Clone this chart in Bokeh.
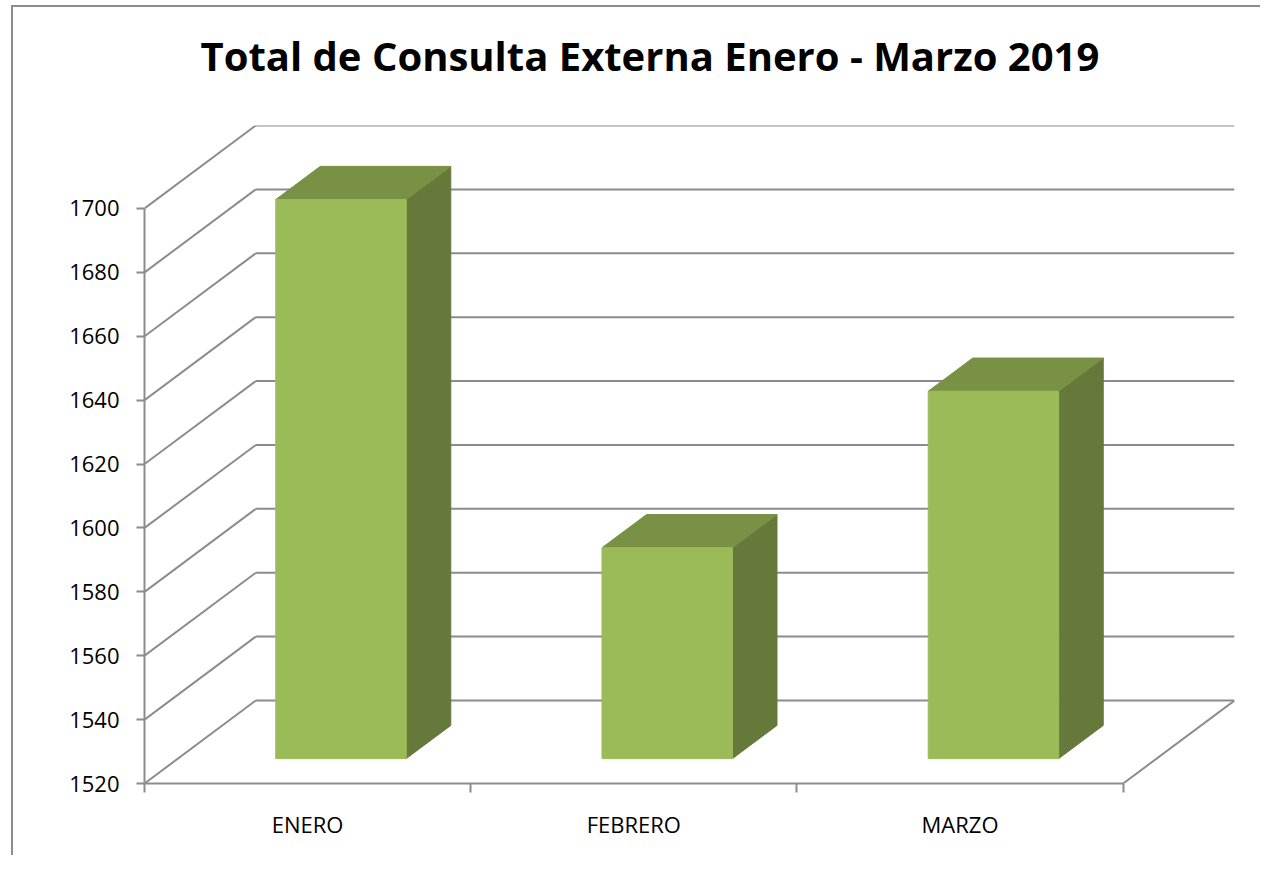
from bokeh.plotting import figure
from bokeh.models import Range1d, FixedTicker, ColumnDataSource, Title
from bokeh.embed import file_html
from bokeh.resources import INLINE

# ---- data -------------------------------------------------------------
CATEGORIES = ["ENERO", "FEBRERO", "MARZO"]
VALUES = [1695, 1586, 1635]
Y_TICKS = [1520, 1540, 1560, 1580, 1600, 1620, 1640, 1660, 1680, 1700]
TITLE = "Total de Consulta Externa Enero - Marzo 2019"

# ---- 3D geometry (data units) -----------------------------------------
N = len(CATEGORIES)
Y0 = Y_TICKS[0]
Y1 = Y_TICKS[-1]
DX = 0.3412          # depth offset along x (category units)
DY = 25.98           # depth offset along y (value units)
BAR_W = 0.40         # bar width (category units)
D0, D1 = 0.30, 0.70  # bar front / back depth fractions

GRID_COLOR = "#8c8c8c"
FRONT = "#9bbb59"
TOP = "#799145"
SIDE = "#66783a"

p = figure(width=1249, height=850, output_backend="svg", toolbar_location=None,
           x_range=Range1d(0, N + DX), y_range=Range1d(Y0, Y1 + DY),
           min_border_left=131, min_border_right=28,
           min_border_top=118, min_border_bottom=74)
p.styles = {"border-left": "2px solid #8c8c8c", "border-top": "2px solid #8c8c8c",
            "margin-left": "11px", "margin-top": "5px"}
p.outline_line_color = None
p.xgrid.visible = False
p.ygrid.visible = False
p.background_fill_color = "white"
p.border_fill_color = "white"

# ---- walls / gridlines ------------------------------------------------
xs, ys = [], []
for v in Y_TICKS:
    xs.append([0, DX]); ys.append([v, v + DY])            # left wall diagonal
    xs.append([DX, N + DX]); ys.append([v + DY, v + DY])  # back wall line
xs.append([N, N + DX]); ys.append([Y0, Y0 + DY])          # floor right edge
p.multi_line(xs, ys, line_color=GRID_COLOR, line_width=2)

# ---- bars -------------------------------------------------------------
px, py, pc = [], [], []
for i, v in enumerate(VALUES):
    c = i + 0.5
    xl0 = c - BAR_W / 2 + D0 * DX
    xr0 = c + BAR_W / 2 + D0 * DX
    xl1 = c - BAR_W / 2 + D1 * DX
    xr1 = c + BAR_W / 2 + D1 * DX
    b0, b1 = Y0 + D0 * DY, Y0 + D1 * DY
    t0, t1 = v + D0 * DY, v + D1 * DY
    # side face
    px.append([xr0, xr1, xr1, xr0]); py.append([b0, b1, t1, t0]); pc.append(SIDE)
    # top face
    px.append([xl0, xl1, xr1, xr0]); py.append([t0, t1, t1, t0]); pc.append(TOP)
    # front face
    px.append([xl0, xr0, xr0, xl0]); py.append([b0, b0, t0, t0]); pc.append(FRONT)
src = ColumnDataSource(dict(xs=px, ys=py, color=pc))
p.patches("xs", "ys", source=src, fill_color="color", line_color="color", line_width=1)

# ---- axes -------------------------------------------------------------
xa = p.xaxis[0]
xa.bounds = (0, N)
xa.ticker = FixedTicker(ticks=[i + 0.5 for i in range(N)], minor_ticks=list(range(N + 1)))
xa.major_label_overrides = {i + 0.5: c for i, c in enumerate(CATEGORIES)}
xa.axis_line_color = GRID_COLOR
xa.axis_line_width = 2
xa.major_tick_line_color = None
xa.major_tick_out = 0
xa.major_tick_in = 0
xa.minor_tick_line_color = GRID_COLOR
xa.minor_tick_line_width = 2
xa.minor_tick_out = 9
xa.minor_tick_in = 0
xa.major_label_standoff = 16
xa.major_label_text_font = "Open Sans"
xa.major_label_text_font_size = "22px"
xa.major_label_text_color = "black"

ya = p.yaxis[0]
ya.bounds = (Y0, Y1)
ya.ticker = FixedTicker(ticks=Y_TICKS, minor_ticks=[])
ya.axis_line_color = GRID_COLOR
ya.axis_line_width = 2
ya.major_tick_line_color = GRID_COLOR
ya.major_tick_line_width = 2
ya.major_tick_out = 8
ya.major_tick_in = 0
ya.minor_tick_line_color = None
ya.major_label_standoff = 17
ya.major_label_text_font = "Open Sans"
ya.major_label_text_font_size = "22px"
ya.major_label_text_color = "black"

# ---- title ------------------------------------------------------------
p.title.text = TITLE
p.title.text_font = "Open Sans"
p.title.text_font_style = "bold"
p.title.text_font_size = "40px"
p.title.text_color = "black"
p.title.align = "left"
p.title.vertical_align = "top"
p.title.offset = 56
p.title.standoff = 0
# blank spacer between the title and the plot area
p.add_layout(Title(text=" ", text_font="Open Sans", text_font_size="10px", standoff=25), "above")

open("out.html", "w").write(file_html(p, INLINE))
